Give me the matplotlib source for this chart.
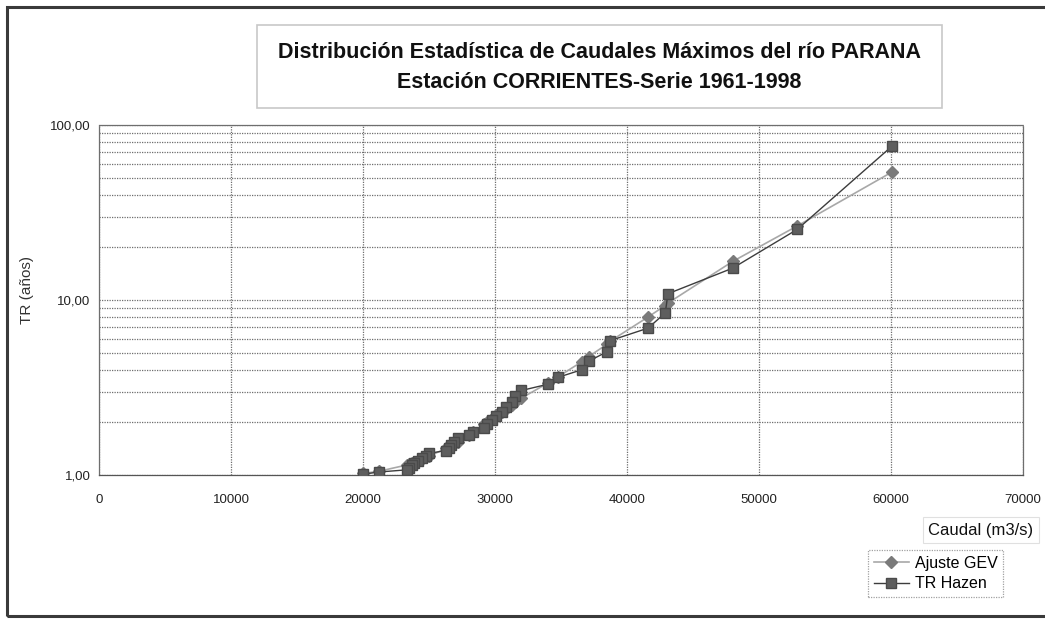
import numpy as np
import matplotlib
matplotlib.use("Agg")
import matplotlib.pyplot as plt
from matplotlib.patches import Rectangle
from matplotlib.ticker import FixedLocator, FuncFormatter, NullFormatter

plt.rcParams['font.family'] = ['Liberation Sans', 'DejaVu Sans']

# caudales maximos anuales ordenados de mayor a menor (m3/s)
caudal = [60100, 52900, 48000, 43100, 42900, 41600, 38700, 38500, 37100, 36600,
          34800, 34000, 32000, 31500, 31300, 30800, 30500, 30100, 29800, 29400,
          29200, 28300, 28000, 27200, 26900, 26700, 26500, 26300, 25000, 24800,
          24500, 24200, 23900, 23700, 23500, 23300, 21200, 20000]

# periodo de retorno segun el ajuste GEV (anos)
tr_gev = [54.0, 26.5, 16.6, 9.6, 9.3, 8.0, 5.8, 5.6, 4.75, 4.45,
          3.65, 3.35, 2.75, 2.6, 2.52, 2.38, 2.3, 2.2, 2.1, 2.0,
          1.95, 1.75, 1.7, 1.55, 1.5, 1.47, 1.45, 1.42, 1.28, 1.26,
          1.24, 1.21, 1.19, 1.17, 1.15, 1.14, 1.05, 1.02]

# periodo de retorno por posicion de Hazen (anos)
tr_hazen = [76.0, 25.33, 15.2, 10.86, 8.44, 6.91, 5.85, 5.07, 4.47, 4.0,
            3.62, 3.3, 3.04, 2.81, 2.62, 2.45, 2.3, 2.17, 2.05, 1.95,
            1.85, 1.77, 1.69, 1.62, 1.55, 1.49, 1.43, 1.38, 1.33, 1.29,
            1.25, 1.21, 1.17, 1.14, 1.1, 1.07, 1.04, 1.01]

x_ticks = [0, 10000, 20000, 30000, 40000, 50000, 60000, 70000]
y_ticks = [1, 10, 100]

W, H = 1045, 627
fig = plt.figure(figsize=(W / 100, H / 100), dpi=100)
fig.patch.set_facecolor('white')

# marco exterior del grafico
fig.patches.append(Rectangle((7 / W, 1 - 616 / H), 1.05, (616 - 7) / H,
                             transform=fig.transFigure, fill=False,
                             edgecolor='#3a3a3a', linewidth=2.2))

ax = fig.add_axes([99 / W, 1 - 475 / H, 924 / W, 350 / H])
ax.set_facecolor('white')

ax.plot(caudal, tr_gev, color='#a8a8a8', linewidth=1.2, marker='D',
        markersize=6.5, markerfacecolor='#7a7a7a', markeredgecolor='#7a7a7a',
        label='Ajuste GEV', zorder=3)
ax.plot(caudal, tr_hazen, color='#3c3c3c', linewidth=1.0, marker='s',
        markersize=6.5, markerfacecolor='#5e5e5e', markeredgecolor='#4a4a4a',
        label='TR Hazen', zorder=4)

ax.set_yscale('log')
ax.set_xlim(0, 70000)
ax.set_ylim(1, 100)
ax.xaxis.set_major_locator(FixedLocator(x_ticks))
ax.yaxis.set_major_locator(FixedLocator(y_ticks))
ax.yaxis.set_minor_locator(FixedLocator([v * d for d in (1, 10) for v in range(2, 10)]))
ax.yaxis.set_minor_formatter(NullFormatter())
ax.yaxis.set_major_formatter(FuncFormatter(lambda v, p: f"{v:.2f}".replace('.', ',')))
ax.xaxis.set_major_formatter(FuncFormatter(lambda v, p: f"{int(v)}"))

grid_kw = dict(color='#6e6e6e', linestyle=(0, (1, 1)), linewidth=0.9)
ax.grid(True, which='major', axis='both', **grid_kw)
ax.grid(True, which='minor', axis='y', **grid_kw)
for side in ax.spines:
    ax.spines[side].set_color('#6e6e6e')
    ax.spines[side].set_linestyle((0, (1, 1)))
    ax.spines[side].set_linewidth(0.9)
ax.spines['bottom'].set_linestyle('-')
ax.spines['bottom'].set_color('#555555')

ax.tick_params(which='both', length=0)
ax.tick_params(axis='x', pad=14, labelsize=9.5, labelcolor='#222222')
ax.tick_params(axis='y', pad=6, labelsize=9.5, labelcolor='#222222')

# titulo dentro de un recuadro
fig.patches.append(Rectangle((257 / W, 1 - 108 / H), (942 - 257) / W, (108 - 25) / H,
                             transform=fig.transFigure, facecolor='white',
                             edgecolor='#c8c8c8', linewidth=1.2))
fig.text(599 / W, 1 - 52 / H, "Distribución Estadística de Caudales Máximos del río PARANA",
         ha='center', va='center', fontsize=15.5, fontweight='bold', color='#111111')
fig.text(599 / W, 1 - 83 / H, "Estación CORRIENTES-Serie 1961-1998",
         ha='center', va='center', fontsize=15.5, fontweight='bold', color='#111111')

fig.text(27 / W, 1 - 290 / H, "TR (años)", rotation=90, ha='center', va='center',
         fontsize=11, color='#333333')

fig.text(981 / W, 1 - 530 / H, "Caudal (m3/s)", ha='center', va='center',
         fontsize=12, color='#111111',
         bbox=dict(boxstyle='square,pad=0.35', facecolor='white', edgecolor='#e0e0e0', linewidth=0.8))

leg = ax.legend(loc='upper left', bbox_to_anchor=(868 / W, 1 - 550 / H),
                bbox_transform=fig.transFigure, fontsize=11.5, frameon=True,
                fancybox=False, handlelength=2.2, handletextpad=0.4,
                borderpad=0.35, labelspacing=0.35, borderaxespad=0)
leg.get_frame().set_edgecolor('#8a8a8a')
leg.get_frame().set_linestyle((0, (1, 1)))
leg.get_frame().set_linewidth(0.9)

fig.savefig('out.png', dpi=100)
